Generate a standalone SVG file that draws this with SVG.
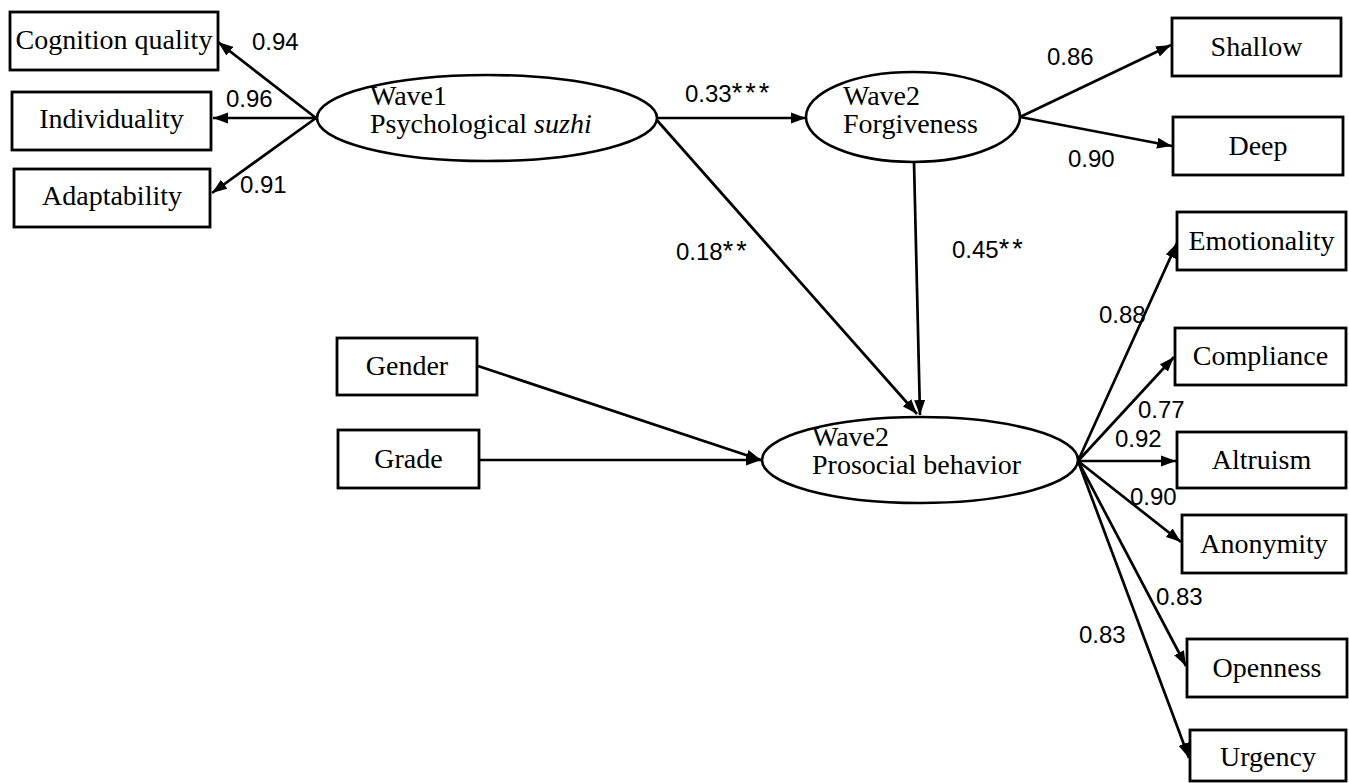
<svg xmlns="http://www.w3.org/2000/svg" width="1349" height="783" viewBox="0 0 1349 783">
<defs>
<style>
.box{fill:#fff;stroke:#000;stroke-width:2.8}
.ell{fill:#fff;stroke:#000;stroke-width:2.6}
.lbl{font-family:"Liberation Serif","Times New Roman",serif;font-size:28px;fill:#000}
.mid{text-anchor:middle}
.num{font-family:"Liberation Sans",Arial,sans-serif;font-size:24px;fill:#000}
.ast{font-size:27px;letter-spacing:3px}
.con line{stroke:#000;stroke-width:2.7;marker-end:url(#ah)}
</style>
<marker id="ah" markerUnits="userSpaceOnUse" markerWidth="16" markerHeight="12" refX="15" refY="6" orient="auto">
<path d="M0,0.5 L15,6 L0,11.5 Z" fill="#000"/>
</marker>
</defs>
<rect width="1349" height="783" fill="#fff"/>

<g id="connectors" class="con">
<line x1="316" y1="118" x2="218" y2="42"/>
<line x1="316" y1="118" x2="213" y2="118"/>
<line x1="316" y1="118" x2="212" y2="193"/>
<line x1="657" y1="118" x2="806" y2="118"/>
<line x1="1020" y1="117" x2="1171" y2="45"/>
<line x1="1020" y1="117" x2="1172" y2="146"/>
<line x1="655" y1="118" x2="917" y2="414"/>
<line x1="914" y1="162" x2="920" y2="415"/>
<line x1="478" y1="366" x2="761" y2="460"/>
<line x1="479" y1="460" x2="761" y2="460"/>
<line x1="1078" y1="461" x2="1177" y2="243"/>
<line x1="1078" y1="461" x2="1174" y2="357"/>
<line x1="1078" y1="461" x2="1176" y2="461"/>
<line x1="1078" y1="461" x2="1181" y2="542"/>
<line x1="1078" y1="461" x2="1186" y2="666"/>
<line x1="1078" y1="461" x2="1189" y2="758"/>
</g>

<g id="cognition">
<rect class="box" x="10" y="12" width="208" height="58"/>
<text class="lbl mid" x="114" y="49">Cognition quality</text>
</g>
<g id="individuality">
<rect class="box" x="12" y="92" width="199" height="58"/>
<text class="lbl mid" x="111.5" y="128">Individuality</text>
</g>
<g id="adaptability">
<rect class="box" x="14" y="169" width="196" height="58"/>
<text class="lbl mid" x="112" y="205">Adaptability</text>
</g>

<g id="wave1-suzhi">
<ellipse class="ell" cx="487" cy="118" rx="170" ry="43"/>
<text class="lbl" x="370" y="105">Wave1</text>
<text class="lbl" x="370" y="133">Psychological <tspan font-style="italic">suzhi</tspan></text>
</g>
<g id="wave2-forgiveness">
<ellipse class="ell" cx="913" cy="117" rx="107" ry="45"/>
<text class="lbl" x="843" y="105">Wave2</text>
<text class="lbl" x="843" y="133">Forgiveness</text>
</g>
<g id="shallow">
<rect class="box" x="1172" y="18" width="169" height="58"/>
<text class="lbl mid" x="1256.5" y="56">Shallow</text>
</g>
<g id="deep">
<rect class="box" x="1173" y="117" width="170" height="58"/>
<text class="lbl mid" x="1258" y="155">Deep</text>
</g>

<g id="gender">
<rect class="box" x="337" y="338" width="140" height="57"/>
<text class="lbl mid" x="407" y="375">Gender</text>
</g>
<g id="grade">
<rect class="box" x="338" y="430" width="141" height="58"/>
<text class="lbl mid" x="408.5" y="468">Grade</text>
</g>

<g id="wave2-prosocial">
<ellipse class="ell" cx="920" cy="460" rx="158" ry="43"/>
<text class="lbl" x="812" y="446">Wave2</text>
<text class="lbl" x="812" y="474">Prosocial behavior</text>
</g>

<g id="emotionality">
<rect class="box" x="1177" y="212" width="169" height="58"/>
<text class="lbl mid" x="1261.5" y="250">Emotionality</text>
</g>
<g id="compliance">
<rect class="box" x="1175" y="328" width="171" height="57"/>
<text class="lbl mid" x="1260.5" y="365">Compliance</text>
</g>
<g id="altruism">
<rect class="box" x="1177" y="432" width="169" height="56"/>
<text class="lbl mid" x="1261.5" y="469">Altruism</text>
</g>
<g id="anonymity">
<rect class="box" x="1182" y="515" width="164" height="58"/>
<text class="lbl mid" x="1264" y="553">Anonymity</text>
</g>
<g id="openness">
<rect class="box" x="1187" y="639" width="160" height="58"/>
<text class="lbl mid" x="1267" y="677">Openness</text>
</g>
<g id="urgency">
<rect class="box" x="1190" y="730" width="156" height="51"/>
<text class="lbl mid" x="1268" y="766">Urgency</text>
</g>

<g id="labels">
<text class="num" x="252" y="50">0.94</text>
<text class="num" x="226" y="107">0.96</text>
<text class="num" x="240" y="193">0.91</text>
<text class="num" x="685" y="102">0.33<tspan class="ast">***</tspan></text>
<text class="num" x="1047" y="65">0.86</text>
<text class="num" x="1068" y="167">0.90</text>
<text class="num" x="676" y="260">0.18<tspan class="ast">**</tspan></text>
<text class="num" x="952" y="258">0.45<tspan class="ast">**</tspan></text>
<text class="num" x="1099" y="323">0.88</text>
<text class="num" x="1138" y="418">0.77</text>
<text class="num" x="1115" y="447">0.92</text>
<text class="num" x="1130" y="505">0.90</text>
<text class="num" x="1156" y="605">0.83</text>
<text class="num" x="1079" y="643">0.83</text>
</g>
</svg>
